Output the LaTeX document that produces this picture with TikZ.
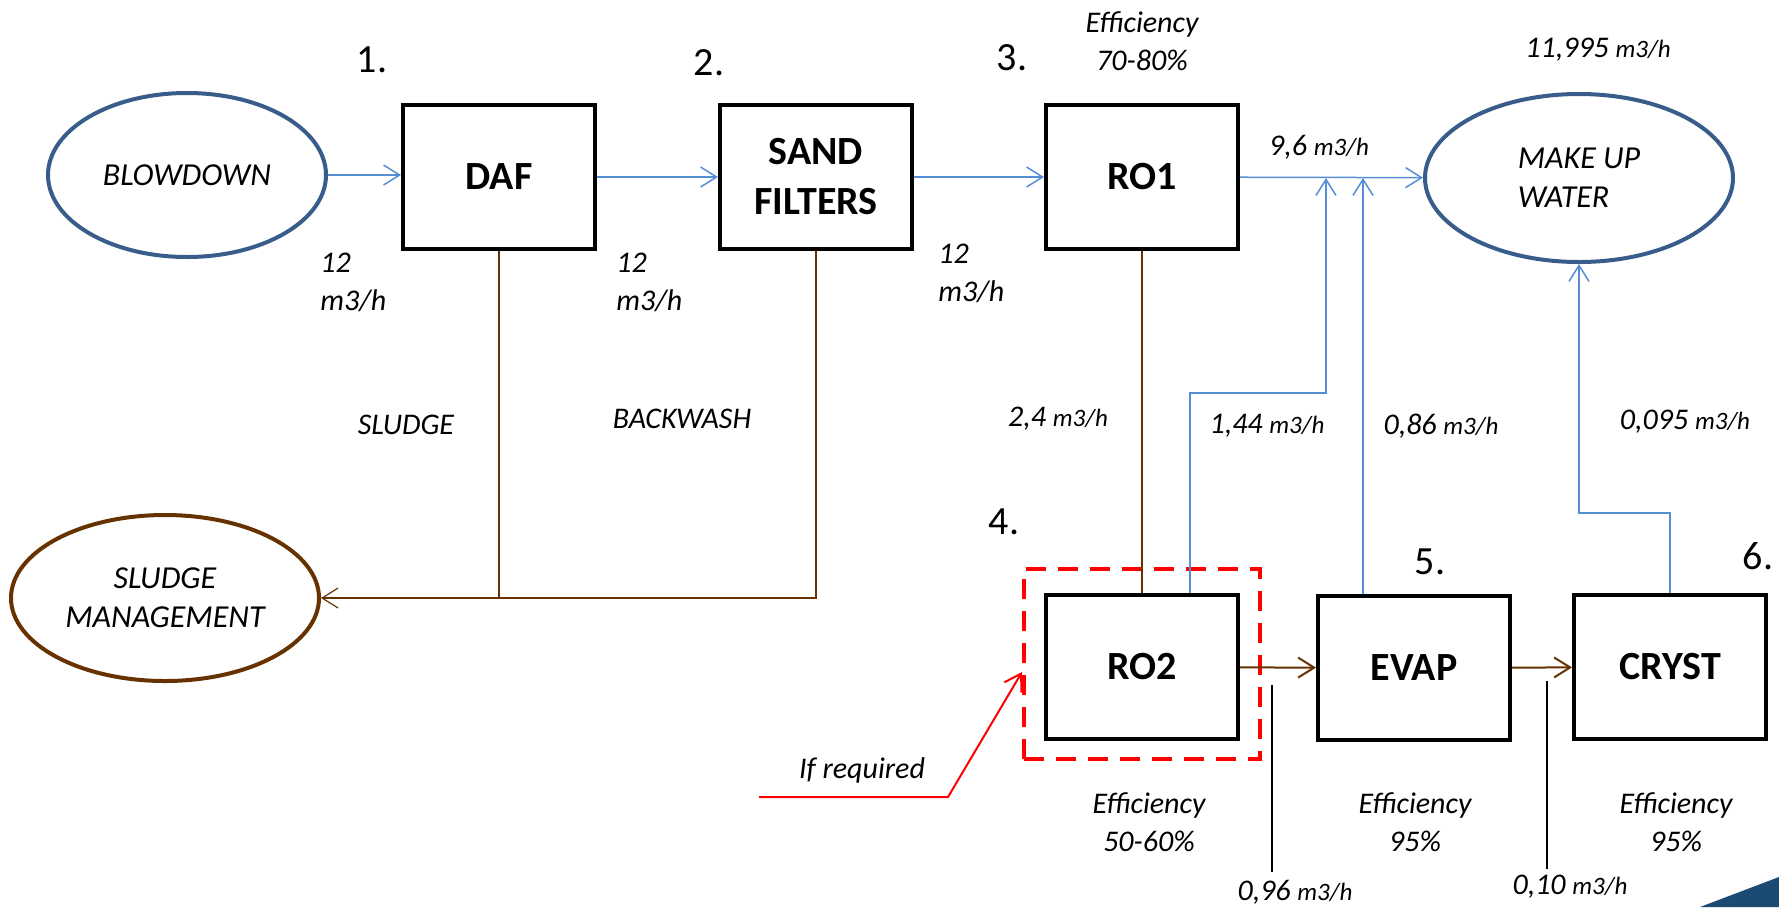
\documentclass[tikz,border=0pt]{standalone}
\usepackage{fontspec}
\setmainfont{Carlito}
\usetikzlibrary{shapes.geometric,arrows.meta}

\definecolor{flowblue}{HTML}{558ED5}
\definecolor{tankblue}{HTML}{385D8A}
\definecolor{mudbrown}{HTML}{663300}
\definecolor{cornerblue}{HTML}{1B4A72}

\newcommand{\flowunit}{{\fontsize{12.5}{15}\selectfont m3/h}}

\tikzset{
    unitbox/.style={rectangle, draw, line width=2pt, minimum width=96pt, minimum height=72pt, align=center, font=\fontsize{20}{25}\selectfont\bfseries},
    tank/.style={ellipse, line width=2pt, font=\fontsize{16}{19.5}\selectfont\itshape},
    lbl/.style={inner sep=1pt, align=center, font=\fontsize{15}{19}\selectfont\itshape},
    stepnum/.style={inner sep=1pt, font=\fontsize{20}{24}\selectfont},
    water/.style={draw=flowblue, line width=0.75pt},
    sludge/.style={draw=mudbrown, line width=0.6pt},
    brine/.style={draw=mudbrown, line width=1pt},
    reject/.style={draw=black, line width=0.6pt}
}

\begin{document}
\begin{tikzpicture}[x=0.5pt, y=-0.5pt, >={Straight Barb[length=8pt,width=10pt]}]

    % Keep the size of the original slide
    \useasboundingbox (0,0) rectangle (1779,907);

    % Corner of the slide background
    \fill[cornerblue] (1700,907) -- (1779,877) -- (1779,907) -- cycle;

    % Source, product and waste
    \node[tank, draw=tankblue, minimum width=139pt, minimum height=82pt] (blowdown) at (187,175) {BLOWDOWN};
    \node[tank, draw=tankblue, minimum width=154pt, minimum height=84pt, align=left] (makeup) at (1579,178) {MAKE UP\\WATER};
    \node[tank, draw=mudbrown, minimum width=154pt, minimum height=83pt, align=center] (sludgemgmt) at (165,598) {SLUDGE\\MANAGEMENT};

    % Treatment units
    \node[unitbox] (daf) at (499,177) {DAF};
    \node[unitbox] (sand) at (816,177) {SAND\\FILTERS};
    \node[unitbox] (ro1) at (1142,177) {RO1};
    \node[unitbox] (ro2) at (1142,667) {RO2};
    \node[unitbox] (evap) at (1414,668) {EVAP};
    \node[unitbox] (cryst) at (1670,667) {CRYST};

    % Optional stage
    \node[draw=red, line width=2pt, dash pattern=on 10pt off 6pt, minimum width=118pt, minimum height=95pt] (option) at (1142,664) {};

    % Step numbers
    \node[stepnum] (n1) at (372,60) {1.};
    \node[stepnum] (n2) at (709,63) {2.};
    \node[stepnum] (n3) at (1012,58) {3.};
    \node[stepnum] (n4) at (1004,522) {4.};
    \node[stepnum] (n5) at (1430,562) {5.};
    \node[stepnum] (n6) at (1758,556) {6.};

    % Main line
    \coordinate (j1) at (1326,178);
    \coordinate (j2) at (1363,178);
    \draw[->, water] (blowdown.east) -- (daf.west |- blowdown.east);
    \draw[->, water] (daf) -- (sand);
    \draw[->, water] (sand) -- (ro1);
    \draw[->, water] (ro1) -- (makeup);

    % Permeate back to make up water
    \draw[->, water] ([xshift=24pt]ro2.north) -- ++(0,-200) -| (j1);
    \draw[->, water] (evap.north -| j2) -- (j2);
    \draw[->, water] (cryst.north) -- ++(0,-80) -| (makeup.south);

    % Sludge and backwash
    \draw[sludge] (daf.south) -- (daf.south |- sludgemgmt.east);
    \draw[->, sludge] (sand.south) |- (sludgemgmt.east);
    \draw[sludge] (ro1) -- (ro2);

    % Brine
    \draw[->, brine] (ro2) -- (evap);
    \draw[->, brine] (evap) -- (cryst);
    \coordinate (rej1) at (1272,685);
    \coordinate (rej2) at (1547,681);
    \draw[reject] (rej1) -- ++(0,187);
    \draw[reject] (rej2) -- ++(0,188);

    % If required
    \coordinate (reqstart) at (759,797);
    \draw[->, red, line width=1pt] (reqstart) -- ++(189,0) -- ([yshift=-4pt]option.west);
    \node[lbl] (req) at (862,770) {If required};

    % Flow labels
    \node[lbl, align=left, anchor=west] (q12a) at (318,282) {12\\m3/h};
    \node[lbl, align=left, anchor=west] (q12b) at (614,282) {12\\m3/h};
    \node[lbl, align=left, anchor=west] (q12c) at (936,273) {12\\m3/h};
    \node[lbl] (q96) at (1319,147) {9,6 \flowunit};
    \node[lbl] (q11995) at (1598,50) {11,995 \flowunit};
    \node[lbl] (q24) at (1058,419) {2,4 \flowunit};
    \node[lbl] (q144) at (1267,426) {1,44 \flowunit};
    \node[lbl] (q086) at (1441,426) {0,86 \flowunit};
    \node[lbl] (q0095) at (1685,422) {0,095 \flowunit};
    \node[lbl] (q096) at (1295,892) {0,96 \flowunit};
    \node[lbl] (q010) at (1570,887) {0,10 \flowunit};
    \node[lbl] (sludgelbl) at (406,425) {SLUDGE};
    \node[lbl] (backwash) at (682,419) {BACKWASH};

    % Efficiencies
    \node[lbl] (eff1) at (1142,41) {Efficiency\\70-80\%};
    \node[lbl] (eff2) at (1149,822) {Efficiency\\50-60\%};
    \node[lbl] (eff3) at (1415,822) {Efficiency\\95\%};
    \node[lbl] (eff4) at (1676,822) {Efficiency\\95\%};
\end{tikzpicture}
\end{document}
